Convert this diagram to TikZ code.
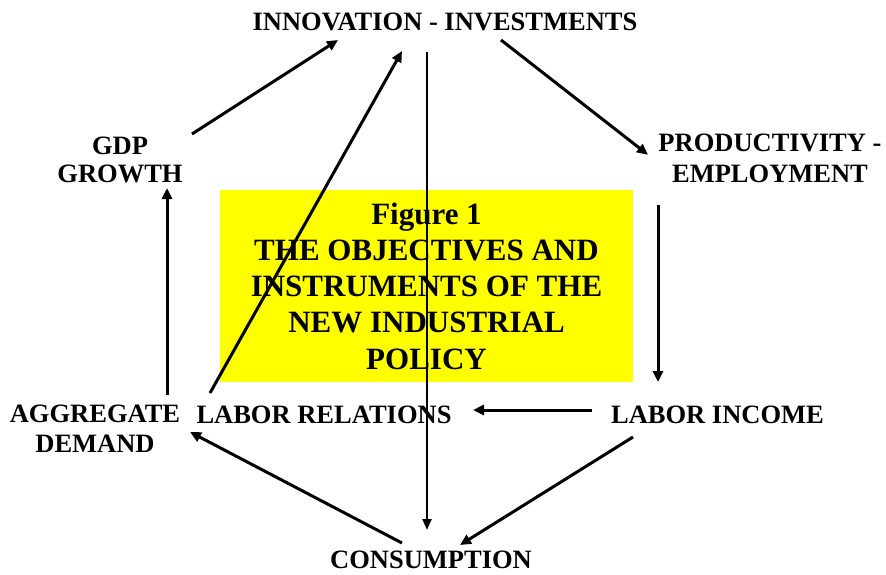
\documentclass[tikz,border=0pt]{standalone}
\usepackage{fontspec}
\setmainfont{Liberation Serif}
\usetikzlibrary{arrows.meta,calc}
\definecolor{boxyellow}{RGB}{255,255,0}
\tikzset{
  lbl/.style={inner sep=0pt, align=center, font=\bfseries\fontsize{26.5}{30}\selectfont},
  arr/.style={line width=3pt, -{Triangle[length=11pt,width=10pt]}},
  thin arr/.style={line width=2.2pt, -{Triangle[length=11pt,width=9pt]}},
  titlebox/.style={fill=boxyellow, inner sep=0pt, minimum width=413pt, minimum height=192pt,
     align=center, font=\bfseries\fontsize{31}{36.2}\selectfont}
}
\begin{document}
\begin{tikzpicture}[x=1pt,y=-1pt]
\useasboundingbox (0,0) rectangle (886,574);
\fill[white] (0,0) rectangle (886,574);
\node[titlebox] (title) at (426.5,286) {Figure 1\\THE OBJECTIVES AND\\INSTRUMENTS OF THE\\NEW INDUSTRIAL\\POLICY};
\node[lbl, anchor=base] (inv) at (445,30) {INNOVATION - INVESTMENTS};
\node[lbl, font=\bfseries\fontsize{26.5}{28}\selectfont] (gdp) at (120,160) {GDP\\GROWTH};
\node[lbl, font=\bfseries\fontsize{26.5}{31}\selectfont] (prod) at (770,158.75) {PRODUCTIVITY -\\EMPLOYMENT};
\node[lbl] (agg) at (95,429) {AGGREGATE\\DEMAND};
\node[lbl, anchor=base] (labrel) at (324,423) {LABOR RELATIONS};
\node[lbl, anchor=base] (inc) at (717.5,423) {LABOR INCOME};
\node[lbl, anchor=base] (cons) at (431,568) {CONSUMPTION};
% connectors
\draw[arr] ($(gdp.center)+(72,-26)$) -- ($(inv.base)+(-107,10)$);
\draw[arr] ($(labrel.base)+(-114,-30)$) -- ($(inv.base)+(-43,21)$);
\draw[thin arr] ($(inv.base)+(-18,22)$) -- ($(cons.base)+(-4,-38)$);
\draw[arr] ($(inv.base)+(56,10)$) -- ($(prod.center)+(-122,-4)$);
\draw[arr] ($(prod.center)+(-112,46)$) -- ($(inc.base)+(-59.5,-41)$);
\draw[arr] ($(inc.base)+(-125.5,-13)$) -- ($(labrel.base)+(149,-13)$);
\draw[arr] ($(inc.base)+(-84.5,14)$) -- ($(cons.base)+(29,-23)$);
\draw[arr] ($(cons.base)+(-29,-25)$) -- ($(agg.center)+(95,3)$);
\draw[arr] ($(agg.center)+(72,-34)$) -- ($(gdp.center)+(47,28)$);
\end{tikzpicture}
\end{document}
